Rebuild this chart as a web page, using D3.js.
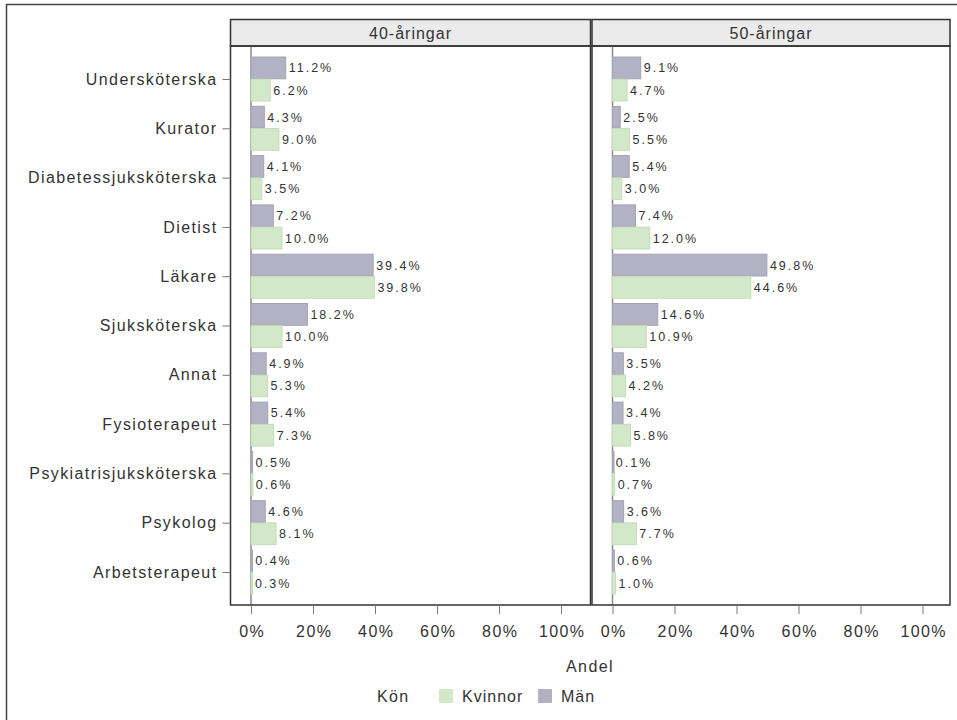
<!DOCTYPE html>
<html lang="sv">
<head>
<meta charset="UTF-8">
<title>Andel per yrke</title>
<script src="https://d3js.org/d3.v7.min.js"></script>
<style>
  body { margin: 0; background: #fff; }
  svg { display: block; font-family: "Liberation Sans", Arial, sans-serif; }
</style>
</head>
<body>
<script>
// data
const categories = ["Undersköterska", "Kurator", "Diabetessjuksköterska", "Dietist", "Läkare",
  "Sjuksköterska", "Annat", "Fysioterapeut", "Psykiatrisjuksköterska", "Psykolog", "Arbetsterapeut"];
const panels = ["40-åringar", "50-åringar"];
const man40 = [11.2, 4.3, 4.1, 7.2, 39.4, 18.2, 4.9, 5.4, 0.5, 4.6, 0.4];
const kvinnor40 = [6.2, 9.0, 3.5, 10.0, 39.8, 10.0, 5.3, 7.3, 0.6, 8.1, 0.3];
const man50 = [9.1, 2.5, 5.4, 7.4, 49.8, 14.6, 3.5, 3.4, 0.1, 3.6, 0.6];
const kvinnor50 = [4.7, 5.5, 3.0, 12.0, 44.6, 10.9, 4.2, 5.8, 0.7, 7.7, 1.0];
const xTicks = [0, 20, 40, 60, 80, 100];
const series = ["Män", "Kvinnor"];
const legendOrder = ["Kvinnor", "Män"];
const colors = { "Män": "#b2b2c4", "Kvinnor": "#d3e8c9" };
const strokes = { "Män": "#a3a3b5", "Kvinnor": "#c4dcb8" };

const panelData = [
  { name: panels[0], "Män": man40, "Kvinnor": kvinnor40 },
  { name: panels[1], "Män": man50, "Kvinnor": kvinnor50 }
];

const W = 957, H = 720;
const svg = d3.select("body").append("svg").attr("width", W).attr("height", H);

// outer frame
svg.append("rect").attr("x", 6.5).attr("y", 4.5).attr("width", 1000).attr("height", 1000)
  .attr("fill", "none").attr("stroke", "#444").attr("stroke-width", 1.5);

const plotTop = 46, plotBottom = 605, headTop = 19.5;
const panelX = [[230.5, 590.5], [592, 950]];

const y = d3.scalePoint().domain(categories).range([plotTop, plotBottom]).padding(0.67);
const groupH = 44;
const yInner = d3.scaleBand().domain(series).range([-groupH / 2, groupH / 2]).paddingInner(0.02);

const textColor = "#333";
const axisFont = 16;
const axisSpacing = 1.4;

panelData.forEach((pd, i) => {
  const [left, right] = panelX[i];
  const x = d3.scaleLinear().domain([0, 100]).range([left + 20.5, left + 330.5]);
  const g = svg.append("g");

  // header
  g.append("rect").attr("x", left).attr("y", headTop).attr("width", right - left)
    .attr("height", plotTop - headTop).attr("fill", "#ebebeb").attr("stroke", "#333").attr("stroke-width", 1.5);
  g.append("text").attr("x", (left + right) / 2).attr("y", plotTop - 7.5)
    .attr("text-anchor", "middle").attr("font-size", axisFont).attr("letter-spacing", 1)
    .attr("fill", textColor).text(pd.name);

  // baseline at 0
  g.append("line").attr("x1", x(0)).attr("x2", x(0)).attr("y1", plotTop).attr("y2", plotBottom)
    .attr("stroke", "#8a8a8a").attr("stroke-width", 1.5);

  series.forEach(s => {
    const vals = pd[s];
    g.append("g").selectAll("rect").data(categories).join("rect")
      .attr("x", x(0))
      .attr("y", (c) => y(c) + yInner(s))
      .attr("width", (c, j) => Math.max(x(vals[j]) - x(0), 1.5))
      .attr("height", yInner.bandwidth())
      .attr("fill", colors[s])
      .attr("stroke", strokes[s]).attr("stroke-width", 1);
    g.append("g").selectAll("text").data(categories).join("text")
      .attr("x", (c, j) => x(vals[j]) + 3)
      .attr("y", (c) => y(c) + yInner(s) + yInner.bandwidth() / 2 + 4.5)
      .attr("font-size", 12.5).attr("letter-spacing", 2).attr("fill", textColor)
      .text((c, j) => vals[j].toFixed(1) + "%");
  });

  // panel frame
  g.append("rect").attr("x", left).attr("y", plotTop).attr("width", right - left)
    .attr("height", plotBottom - plotTop).attr("fill", "none").attr("stroke", "#333").attr("stroke-width", 1.5);

  // x axis
  const xa = g.append("g").attr("transform", `translate(0,${plotBottom})`)
    .call(d3.axisBottom(x).tickValues(xTicks).tickSize(9).tickPadding(12).tickFormat(d => d + "%"));
  xa.select(".domain").remove();
  xa.selectAll("line").attr("stroke", "#777");
  xa.selectAll("text").attr("font-size", axisFont).attr("fill", textColor)
    .attr("font-family", "Liberation Sans, Arial, sans-serif").attr("letter-spacing", axisSpacing)
    .attr("dx", 0.7);
});

// y axis
const ya = svg.append("g").attr("transform", `translate(${panelX[0][0]},0)`)
  .call(d3.axisLeft(y).tickSize(8).tickPadding(5));
ya.select(".domain").remove();
ya.selectAll("line").attr("stroke", "#777");
ya.selectAll("text").attr("font-size", axisFont).attr("fill", textColor)
  .attr("font-family", "Liberation Sans, Arial, sans-serif").attr("letter-spacing", axisSpacing);

// x title
svg.append("text").attr("x", 590).attr("y", 672).attr("text-anchor", "middle")
  .attr("font-size", axisFont).attr("letter-spacing", axisSpacing).attr("fill", textColor).text("Andel");

// legend
const lg = svg.append("g").attr("transform", "translate(0,696)");
lg.append("text").attr("x", 377).attr("y", 5.5).attr("font-size", axisFont).attr("letter-spacing", axisSpacing)
  .attr("fill", textColor).text("Kön");
const legX = { "Kvinnor": 439, "Män": 538 };
legendOrder.forEach(s => {
  lg.append("rect").attr("x", legX[s]).attr("y", -7).attr("width", 14).attr("height", 14)
    .attr("fill", colors[s]);
  lg.append("text").attr("x", legX[s] + 23).attr("y", 5.5).attr("font-size", axisFont)
    .attr("letter-spacing", 1).attr("fill", textColor).text(s);
});
</script>
</body>
</html>
